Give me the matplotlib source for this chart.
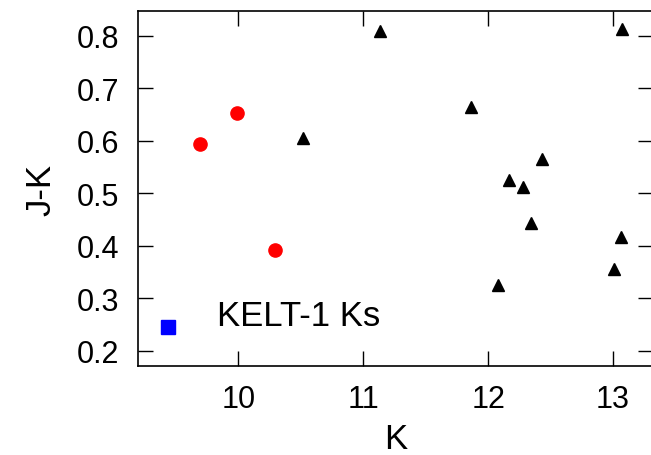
import matplotlib
matplotlib.use("Agg")
import matplotlib.pyplot as plt

plt.rcParams["font.family"] = ["Liberation Sans", "DejaVu Sans"]

# K magnitude vs J-K colour
red_k  = [9.69, 9.99, 10.29]
red_jk = [0.594, 0.652, 0.392]

tri_k  = [11.13, 13.07, 11.86, 10.52, 12.43, 12.17, 12.28, 12.34, 13.06, 13.005, 12.08]
tri_jk = [0.808, 0.813, 0.665, 0.606, 0.566, 0.526, 0.512, 0.443, 0.416, 0.356, 0.326]

kelt_k  = [9.44]
kelt_jk = [0.245]

x_ticks = [10, 11, 12, 13]
y_ticks = [0.2, 0.3, 0.4, 0.5, 0.6, 0.7, 0.8]

fig = plt.figure(figsize=(6.51, 4.56), dpi=100)
ax = fig.add_axes([137.5 / 651, 1 - 367 / 456, (653 - 137.5) / 651, (367 - 12) / 456])

ax.plot(tri_k, tri_jk, "^", color="black", ms=9, ls="none")
ax.plot(red_k, red_jk, "o", color="red", ms=9.5, ls="none")
ax.plot(kelt_k, kelt_jk, "s", color="blue", ms=9.5, ls="none")

ax.text(9.83, 0.268, "KELT-1 Ks", fontsize=25, va="center", ha="left")

ax.set_xlim(9.192, 13.32)
ax.set_ylim(0.171, 0.847)
ax.set_xticks(x_ticks)
ax.set_yticks(y_ticks)
ax.set_yticklabels([f"{v:.1f}" for v in y_ticks])

ax.tick_params(direction="in", length=11, width=1, top=True, right=True,
               labelsize=22, pad=13)
for spine in ax.spines.values():
    spine.set_linewidth(1.2)

ax.set_xlabel("K", fontsize=25, labelpad=6)
ax.set_ylabel("J-K", fontsize=25, labelpad=14)

fig.savefig("out.png", dpi=100)
